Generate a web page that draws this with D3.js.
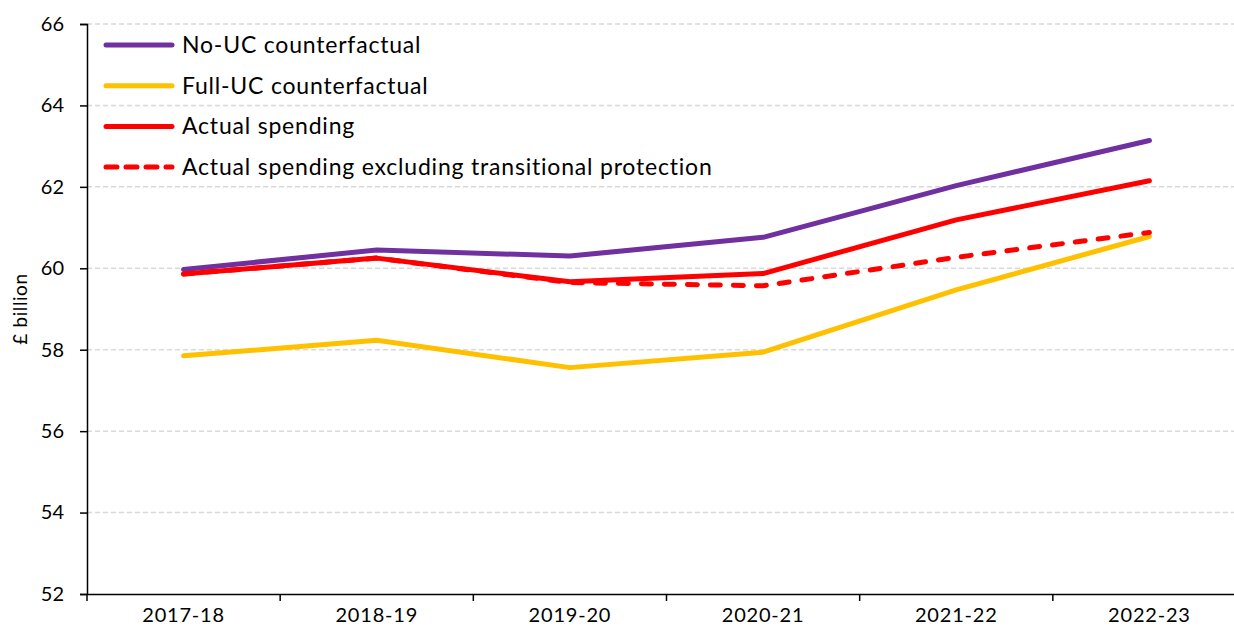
<!DOCTYPE html>
<html>
<head>
<meta charset="utf-8">
<script src="https://cdn.jsdelivr.net/npm/d3@7"></script>
<style>
  body { margin: 0; background: #fff; }
  text { font-family: Lato, "Noto Sans", sans-serif; fill: #000; }
</style>
</head>
<body>
<div id="vis"></div>
<script>
const years = ["2017-18", "2018-19", "2019-20", "2020-21", "2021-22", "2022-23"];

const noUC = [59.97, 60.45, 60.30, 60.76, 62.03, 63.14];
const fullUC = [57.85, 58.23, 57.56, 57.94, 59.47, 60.78];
const actual = [59.86, 60.25, 59.67, 59.87, 61.19, 62.15];
const actualExTP = [59.86, 60.25, 59.65, 59.57, 60.27, 60.88];

const yTicks = [52, 54, 56, 58, 60, 62, 64, 66];

const seriesNames = [
  "No-UC counterfactual",
  "Full-UC counterfactual",
  "Actual spending",
  "Actual spending excluding transitional protection",
];
const seriesColors = ["#7030A0", "#FFC000", "#FF0000", "#FF0000"];

const W = 1234, H = 628;
const margin = { top: 24, right: -12, bottom: 34, left: 87 };
const width = W - margin.left - margin.right;
const height = H - margin.top - margin.bottom;

const svg = d3.select("#vis").append("svg").attr("width", W).attr("height", H);
const g = svg.append("g").attr("transform", `translate(${margin.left},${margin.top})`);

const x = d3.scaleBand().domain(years).range([0, width]);
const y = d3.scaleLinear().domain([52, 66]).range([height, 0]);

// gridlines
g.selectAll(".grid")
  .data(yTicks.filter((d) => d > 52))
  .enter()
  .append("line")
  .attr("x1", 0)
  .attr("x2", width)
  .attr("y1", (d) => y(d))
  .attr("y2", (d) => y(d))
  .attr("stroke", "#d9d9d9")
  .attr("stroke-width", 1.5)
  .attr("stroke-dasharray", "5,3");

// y axis
const yAxis = g.append("g")
  .call(d3.axisLeft(y).tickValues(yTicks).tickSize(7).tickPadding(16).tickFormat(d3.format("d")));
yAxis.select(".domain").attr("stroke", "#000").attr("stroke-width", 1.5);
yAxis.selectAll(".tick line").attr("stroke", "#000").attr("stroke-width", 1.5);
yAxis.selectAll("text").style("font-size", "20px");

// x axis
const xAxis = g.append("g")
  .attr("transform", `translate(0,${height})`)
  .call(d3.axisBottom(x).tickSize(0).tickPadding(14));
xAxis.select(".domain").attr("stroke", "#000").attr("stroke-width", 1.5);
xAxis.selectAll("text").style("font-size", "20px").style("letter-spacing", "0.8px");
xAxis.selectAll(".bt")
  .data(years)
  .enter()
  .append("line")
  .attr("x1", (d) => x(d))
  .attr("x2", (d) => x(d))
  .attr("y1", 0)
  .attr("y2", 7)
  .attr("stroke", "#000")
  .attr("stroke-width", 1.5);

// y title
svg.append("text")
  .attr("transform", `translate(27,${margin.top + height / 2}) rotate(-90)`)
  .attr("text-anchor", "middle")
  .style("font-size", "19px")
  .style("letter-spacing", "0.6px")
  .text("£ billion");

// lines
const line = d3.line()
  .x((d, i) => x(years[i]) + x.bandwidth() / 2)
  .y((d) => y(d));

const allSeries = [noUC, fullUC, actual, actualExTP];
allSeries.forEach((s, i) => {
  g.append("path")
    .datum(s)
    .attr("fill", "none")
    .attr("stroke", seriesColors[i])
    .attr("stroke-width", 5)
    .attr("stroke-linecap", "round")
    .attr("stroke-linejoin", "round")
    .attr("stroke-dasharray", i === 3 ? "10,13" : null)
    .attr("d", line);
});

// legend
const legend = svg.append("g").attr("transform", "translate(106,45)");
seriesNames.forEach((name, i) => {
  const row = legend.append("g").attr("transform", `translate(0,${i * 40.7})`);
  row.append("line")
    .attr("x1", 0)
    .attr("x2", 66)
    .attr("stroke", seriesColors[i])
    .attr("stroke-width", 5)
    .attr("stroke-linecap", "round")
    .attr("stroke-dasharray", i === 3 ? "11,9" : null);
  row.append("text")
    .attr("x", 76)
    .attr("dy", "0.35em")
    .style("font-size", "23px")
    .style("letter-spacing", "0.8px")
    .text(name);
});
</script>
</body>
</html>
